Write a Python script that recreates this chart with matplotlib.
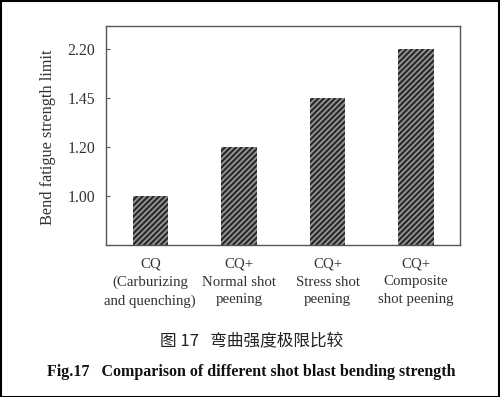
import matplotlib
matplotlib.use("Agg")
import matplotlib.pyplot as plt
import numpy as np
from matplotlib.patches import Rectangle

categories = ["CQ\n(Carburizing\nand quenching)", "CQ+\nNormal shot\npeening",
              "CQ+\nStress shot\npeening", "CQ+\nComposite\nshot peening"]
values = [1.00, 1.20, 1.45, 2.20]
tick_values = [1.00, 1.20, 1.45, 2.20]
tick_labels = ["1.00", "1.20", "1.45", "2.20"]
ylabel = "Bend fatigue strength limit"
caption_cn = "图 17   弯曲强度极限比较"
caption_en = "Fig.17   Comparison of different shot blast bending strength"

# piecewise axis: tick values equally spaced
base = 0.8
knots_v = [base] + tick_values + [tick_values[-1] + 0.75]
knots_p = list(range(len(knots_v)))

def fwd(v):
    return np.interp(v, knots_v, knots_p)

def inv(p):
    return np.interp(p, knots_p, knots_v)

plt.rcParams['hatch.linewidth'] = 1.6
plt.rcParams['hatch.color'] = '#2a2a2a'

fig = plt.figure(figsize=(5.0, 3.97), dpi=100)
ax = fig.add_axes([106/500, 1 - 245/397, (460.5 - 106)/500, (245 - 26)/397])
ax.set_yscale('function', functions=(fwd, inv))

x = np.arange(len(categories))
heights = [v - base for v in values]
ax.bar(x, heights, bottom=base, width=0.4, color='#9a9a9a', hatch='//////',
       edgecolor='#2a2a2a', linewidth=0)

ax.set_xlim(-0.5, len(categories) - 0.5)
ax.set_ylim(base, inv(4.47))
ax.set_yticks(tick_values)
ax.set_yticklabels(tick_labels)
ax.set_xticks(x)
ax.set_xticklabels(categories, linespacing=1.5)

serif = ['Liberation Serif', 'DejaVu Serif']
for lab in ax.get_yticklabels():
    lab.set_fontfamily(serif)
    lab.set_fontsize(11.3)
    lab.set_color('#333333')
for lab in ax.get_xticklabels():
    lab.set_fontfamily(serif)
    lab.set_fontsize(10.7)
    lab.set_color('#333333')

ax.tick_params(axis='y', direction='in', length=3, width=0.8, color='#555555', pad=8)
ax.tick_params(axis='x', length=0, pad=9)
for s in ax.spines.values():
    s.set_color('#555555')
    s.set_linewidth(1.0)

ax.set_ylabel(ylabel, fontfamily=serif, fontsize=11.7, color='#333333', va='center')
ax.yaxis.set_label_coords(48/500, 1 - 137/397, transform=fig.transFigure)

fig.text(252/500, 1 - 342/397, caption_cn, ha='center', va='center',
         fontfamily=['Noto Sans CJK SC', 'DejaVu Sans'], fontsize=12, color='#222222')
fig.text(251.5/500, 1 - 372/397, caption_en, ha='center', va='center',
         fontfamily=serif, fontsize=11.5, fontweight='bold', color='#111111')

fig.patches.append(Rectangle((0.5/500, 0.5/397), 498.5/500, 395.5/397, transform=fig.transFigure,
                             fill=False, edgecolor='black', linewidth=1.5))

fig.savefig("out.png", dpi=100)
